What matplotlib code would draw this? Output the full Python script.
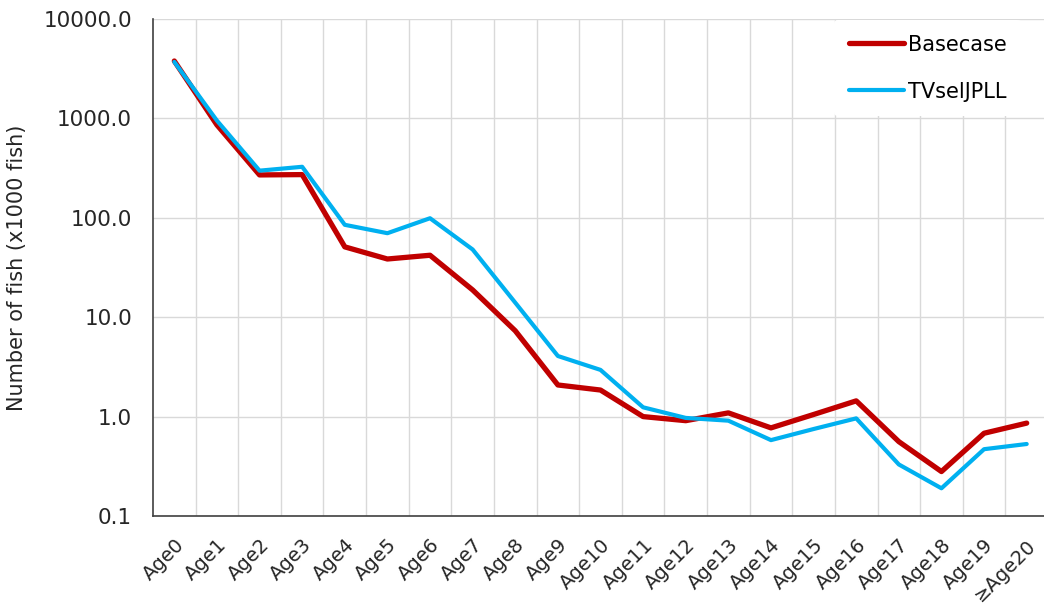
import matplotlib
matplotlib.use("Agg")
import matplotlib.pyplot as plt
from matplotlib.ticker import FixedLocator, FormatStrFormatter

# age classes and numbers at age (x1000 fish)
ages = ["Age0", "Age1", "Age2", "Age3", "Age4", "Age5", "Age6", "Age7",
        "Age8", "Age9", "Age10", "Age11", "Age12", "Age13", "Age14",
        "Age15", "Age16", "Age17", "Age18", "Age19", "\u2265Age20"]
basecase = [3780, 860, 270, 272, 51, 38.5, 42, 18.8, 7.3, 2.08, 1.85,
            1.0, 0.91, 1.09, 0.77, 1.05, 1.44, 0.56, 0.28, 0.68, 0.86]
tvsel = [3700, 950, 298, 326, 85, 70, 99, 48, 14, 4.07, 2.95,
         1.24, 0.97, 0.91, 0.58, 0.75, 0.96, 0.33, 0.19, 0.47, 0.53]

plt.rcParams['font.family'] = ['DejaVu Sans']

fig = plt.figure(figsize=(10.44, 6.12), dpi=100)
ax = fig.add_axes([153 / 1044, 96 / 612, 895 / 1044, 497 / 612])

x = list(range(len(ages)))
ax.plot(x, basecase, color="#C00000", lw=3.8, label="Basecase",
        solid_capstyle="round", zorder=3)
ax.plot(x, tvsel, color="#00B0F0", lw=3.0, label="TVselJPLL",
        solid_capstyle="round", zorder=4)

ax.set_yscale("log")
ax.set_ylim(0.1, 10000)
ax.yaxis.set_major_locator(FixedLocator([0.1, 1, 10, 100, 1000, 10000]))
ax.yaxis.set_minor_locator(FixedLocator([]))
ax.yaxis.set_major_formatter(FormatStrFormatter("%.1f"))

ax.set_xlim(-0.5, len(ages) - 0.5)
ax.set_xticks(x)
ax.set_xticklabels(ages, rotation=45, ha="right", rotation_mode="anchor",
                   fontsize=14, color="#262626")
# vertical grid between categories
for b in range(1, len(ages)):
    ax.axvline(b - 0.5, color="#D9D9D9", lw=1, zorder=1)
ax.grid(axis="y", color="#D9D9D9", lw=1, zorder=1)
ax.set_axisbelow(True)

ax.tick_params(axis="both", which="both", length=0, colors="#262626")
ax.tick_params(axis="y", labelsize=15.5, pad=15)
ax.tick_params(axis="x", pad=14)
for s in ["top", "right"]:
    ax.spines[s].set_visible(False)
for s in ["left", "bottom"]:
    ax.spines[s].set_color("#404040")
    ax.spines[s].set_linewidth(1.2)

ax.set_ylabel("Number of fish (x1000 fish)", fontsize=15, color="#262626",
              labelpad=12)

leg = ax.legend(loc="upper right", bbox_to_anchor=(0.9704, 0.998), frameon=True,
                fontsize=15, handlelength=2.65, handletextpad=0.2,
                labelspacing=1.3, borderpad=0.7, borderaxespad=0.0)
leg.get_frame().set_facecolor("white")
leg.get_frame().set_edgecolor("none")
leg.get_frame().set_alpha(1)
leg.set_zorder(5)

fig.savefig("out.png", dpi=100)
